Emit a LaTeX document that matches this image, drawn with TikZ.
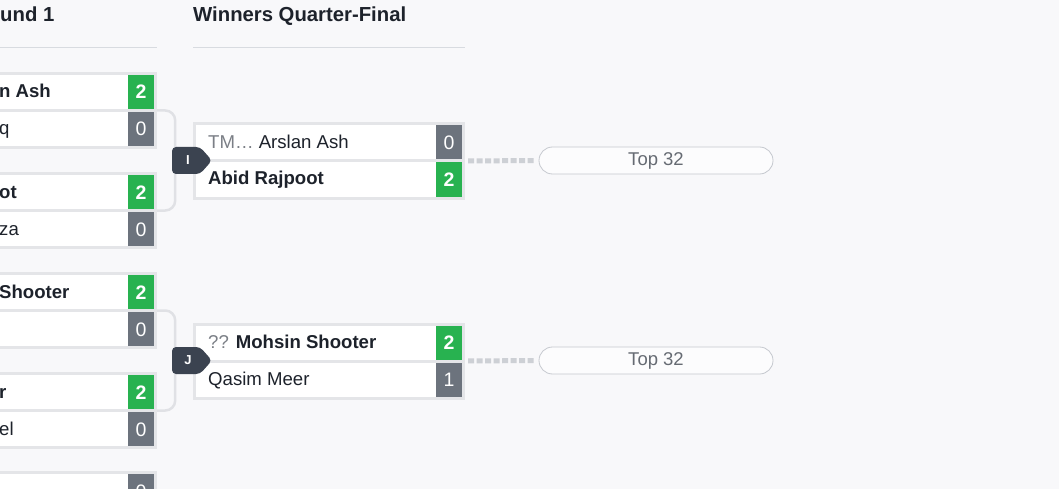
\documentclass[tikz,border=0pt]{standalone}
\usepackage{fontspec}
\setmainfont{Liberation Sans}
\definecolor{bgcol}{RGB}{248,248,250}
\definecolor{bordercol}{RGB}{228,229,232}
\definecolor{bracketcol}{RGB}{224,225,229}
\definecolor{wincol}{RGB}{40,178,80}
\definecolor{losscol}{RGB}{108,115,125}
\definecolor{badgecol}{RGB}{59,67,80}
\definecolor{txtcol}{RGB}{29,34,43}
\definecolor{mutedcol}{RGB}{123,127,134}
\definecolor{hlinecol}{RGB}{216,219,224}
\definecolor{dotcol}{RGB}{205,208,213}
\definecolor{pillborder}{RGB}{197,200,206}
\definecolor{pilltxt}{RGB}{102,107,115}
\begin{document}
\begin{tikzpicture}[x=1pt,y=-1pt,
  outerbox/.style={fill=bordercol, draw=none, inner sep=0pt, minimum height=77pt},
  rowbox/.style={fill=white, draw=none, inner sep=0pt, minimum height=34pt},
  scorebase/.style={draw=none, inner sep=0pt, minimum width=26pt, minimum height=34pt,
     text=white, font=\fontsize{19.5}{21}\selectfont, text height=14pt, text depth=0pt},
  winscore/.style={scorebase, fill=wincol, font=\fontsize{19.5}{21}\selectfont\bfseries},
  lossscore/.style={scorebase, fill=losscol},
  nametxt/.style={anchor=base west, inner sep=0pt, text=txtcol, font=\fontsize{18.6}{20}\selectfont},
  winname/.style={nametxt, font=\fontsize{18.6}{20}\selectfont\bfseries},
  header/.style={anchor=base west, inner sep=0pt, text=txtcol, font=\fontsize{20.3}{22}\selectfont\bfseries},
  hline/.style={draw=hlinecol, line width=1pt},
  bracket/.style={draw=bracketcol, line width=2.5pt, rounded corners=10pt},
  badgeshape/.style={fill=badgecol, rounded corners=4pt},
  badgetxt/.style={inner sep=0pt, text=white, font=\fontsize{13}{15}\selectfont\bfseries},
  dotline/.style={draw=dotcol, line width=5pt, dash pattern=on 6pt off 2.5pt, shorten <=3pt, shorten >=4pt},
  pill/.style={draw=pillborder, line width=0.8pt, fill=white!60!bgcol, rounded corners=13.5pt,
     minimum width=234pt, minimum height=27pt, inner sep=0pt, text=pilltxt,
     font=\fontsize{18.5}{20}\selectfont, text height=13pt, text depth=3pt}
]
\useasboundingbox (0,0) rectangle (1059,489);
\clip (0,0) rectangle (1059,489);
\fill[bgcol] (0,0) rectangle (1059,489);

% headers
\node[header] (h1) at (0,22) {und 1};
\node[header] (h2) at (193,22) {Winners Quarter-Final};
\coordinate (l1a) at (-5,48); \coordinate (l1b) at (157,48);
\coordinate (l2a) at (193,48); \coordinate (l2b) at (465,48);
\draw[hline] (l1a) -- (l1b);
\draw[hline] (l2a) -- (l2b);

% round 1 matches
% A
\node[outerbox, minimum width=167pt] (A) at (73.5,110.5) {};
\node[rowbox, minimum width=164pt] (A1) at (72,92) {};
\node[rowbox, minimum width=164pt] (A2) at (72,129) {};
\node[winscore] (A1s) at (141,92) {2};
\node[lossscore] (A2s) at (141,129) {0};
\node[winname] (A1n) at (-1,98) {n Ash};
\node[nametxt] (A2n) at (-1,135) {q};
% B
\node[outerbox, minimum width=167pt] (B) at (73.5,210.5) {};
\node[rowbox, minimum width=164pt] (B1) at (72,192) {};
\node[rowbox, minimum width=164pt] (B2) at (72,229) {};
\node[winscore] (B1s) at (141,192) {2};
\node[lossscore] (B2s) at (141,229) {0};
\node[winname] (B1n) at (-1,198) {ot};
\node[nametxt] (B2n) at (-1,235) {za};
% C
\node[outerbox, minimum width=167pt] (C) at (73.5,310.5) {};
\node[rowbox, minimum width=164pt] (C1) at (72,292) {};
\node[rowbox, minimum width=164pt] (C2) at (72,329) {};
\node[winscore] (C1s) at (141,292) {2};
\node[lossscore] (C2s) at (141,329) {0};
\node[winname] (C1n) at (-1,298) {Shooter};
% D
\node[outerbox, minimum width=167pt] (D) at (73.5,410.5) {};
\node[rowbox, minimum width=164pt] (D1) at (72,392) {};
\node[rowbox, minimum width=164pt] (D2) at (72,429) {};
\node[winscore] (D1s) at (141,392) {2};
\node[lossscore] (D2s) at (141,429) {0};
\node[winname] (D1n) at (-1,398) {r};
\node[nametxt] (D2n) at (-1,435) {el};
% E (partial, cut by the lower edge as in the reference)
\node[outerbox, minimum width=167pt] (E) at (73.5,509.5) {};
\node[rowbox, minimum width=164pt] (E1) at (72,491) {};
\node[lossscore] (E1s) at (141,491) {0};

% brackets
\draw[bracket] (A.east) -- ++(18,0) |- (B.east);
\draw[bracket] (C.east) -- ++(18,0) |- (D.east);

% quarter-final 1
\node[outerbox, minimum width=272pt] (Q1) at (329,161) {};
\node[rowbox, minimum width=266pt] (Q1a) at (329,142.5) {};
\node[rowbox, minimum width=266pt] (Q1b) at (329,179.5) {};
\node[lossscore] (Q1as) at (449,142.5) {0};
\node[winscore] (Q1bs) at (449,179.5) {2};
\node[nametxt] (Q1an) at (208,148.5) {\textcolor{mutedcol}{TM\dots} Arslan Ash};
\node[winname] (Q1bn) at (208,185) {Abid Rajpoot};

% quarter-final 2
\node[outerbox, minimum width=272pt] (Q2) at (329,361) {};
\node[rowbox, minimum width=266pt] (Q2a) at (329,342.5) {};
\node[rowbox, minimum width=266pt] (Q2b) at (329,379.5) {};
\node[winscore] (Q2as) at (449,342.5) {2};
\node[lossscore] (Q2bs) at (449,379.5) {1};
\node[nametxt] (Q2an) at (208,348.5) {\textcolor{mutedcol}{??} \textbf{Mohsin Shooter}};
\node[nametxt] (Q2bn) at (208,385) {Qasim Meer};

% badges
\fill[badgeshape] (172,147) -- (200,147) -- (212,160.5) -- (200,174) -- (172,174) -- cycle;
\node[badgetxt] (I) at (188,160) {I};
\fill[badgeshape] (172,347) -- (200,347) -- (212,360.5) -- (200,374) -- (172,374) -- cycle;
\node[badgetxt] (J) at (188,360) {J};

% next slots
\node[pill] (P1) at (656,160.5) {Top 32};
\node[pill] (P2) at (656,360.5) {Top 32};
\draw[dotline] (Q1.east) -- (P1.west);
\draw[dotline] (Q2.east) -- (P2.west);
\end{tikzpicture}
\end{document}
